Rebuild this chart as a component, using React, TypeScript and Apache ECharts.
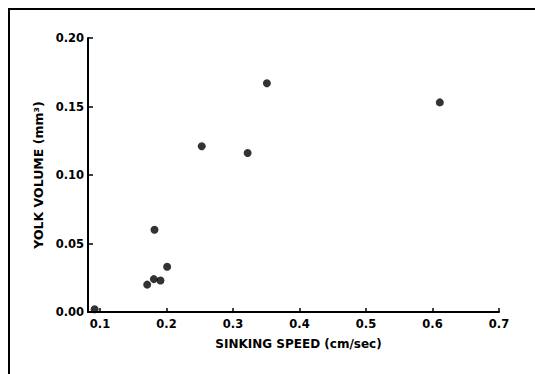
import React, { useEffect, useRef } from "react";
import * as echarts from "echarts";

const sinkingSpeed = [0.092, 0.171, 0.181, 0.191, 0.182, 0.201, 0.253, 0.322, 0.351, 0.611];
const yolkVolume = [0.002, 0.020, 0.024, 0.023, 0.060, 0.033, 0.121, 0.116, 0.167, 0.153];
const xTicks = [0.1, 0.2, 0.3, 0.4, 0.5, 0.6, 0.7];
const yTicks = [0, 0.05, 0.1, 0.15, 0.2];
const xTitle = "SINKING SPEED (cm/sec)";
const yTitle = "YOLK VOLUME (mm³)";

export default function App() {
  const ref = useRef<HTMLDivElement>(null);
  useEffect(() => {
    if (!ref.current) return;
    const chart = echarts.init(ref.current, null, { renderer: "svg" });
    const font = { fontFamily: "DejaVu Sans", fontWeight: "bold" as const, color: "#000", fontSize: 11.5 };
    chart.setOption({
      animation: false,
      backgroundColor: "#fff",
      grid: { left: 88, top: 38, right: 36, bottom: 62 },
      graphic: [
        {
          type: "line",
          shape: { x1: 8, y1: 9, x2: 535, y2: 9 },
          style: { stroke: "#000", lineWidth: 2 },
          silent: true,
        },
        {
          type: "line",
          shape: { x1: 9, y1: 8, x2: 9, y2: 374 },
          style: { stroke: "#000", lineWidth: 2 },
          silent: true,
        },
      ],
      xAxis: {
        type: "value",
        min: 0.082,
        max: 0.7,
        name: xTitle,
        nameLocation: "middle",
        nameGap: 26,
        nameTextStyle: { ...font, fontSize: 12, padding: [0, 0, 0, 10] },
        splitLine: { show: false },
        axisLine: { lineStyle: { color: "#000", width: 2 } },
        axisTick: { inside: true, length: 4, customValues: xTicks, lineStyle: { color: "#000", width: 1.5 } },
        axisLabel: { ...font, margin: 6, customValues: xTicks, formatter: (v: number) => v.toFixed(1) },
      },
      yAxis: {
        type: "value",
        min: 0,
        max: 0.2,
        name: yTitle,
        nameLocation: "middle",
        nameGap: 42,
        nameTextStyle: { ...font, fontSize: 12.5 },
        splitLine: { show: false },
        axisLine: { show: true, lineStyle: { color: "#000", width: 2 } },
        axisTick: { show: true, inside: true, length: 5, customValues: yTicks, lineStyle: { color: "#000", width: 1.5 } },
        axisLabel: { ...font, margin: 4, customValues: yTicks, formatter: (v: number) => v.toFixed(2) },
      },
      series: [
        {
          type: "scatter",
          data: sinkingSpeed.map((s, i) => [s, yolkVolume[i]]),
          symbol: "circle",
          symbolSize: 8,
          clip: false,
          itemStyle: { color: "#000" },
        },
      ],
    });
    return () => chart.dispose();
  }, []);
  return <div ref={ref} style={{ position: "absolute", left: 0, top: 0, width: 535, height: 374 }} />;
}
